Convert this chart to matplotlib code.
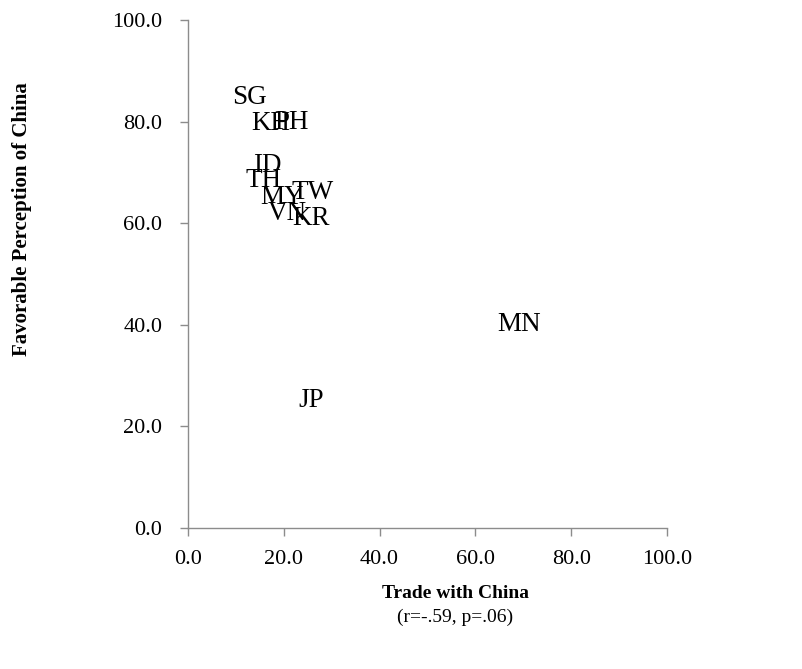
import matplotlib
matplotlib.use("Agg")
import matplotlib.pyplot as plt

countries = ["SG", "PH", "KH", "ID", "TH", "MY", "TW", "VN", "KR", "MN", "JP"]
trade = [12.9, 21.7, 17.3, 16.5, 15.8, 19.6, 26.0, 20.8, 25.6, 69.2, 25.8]
favorable = [84.8, 79.9, 79.7, 71.4, 68.5, 65.0, 66.1, 62.0, 61.0, 40.0, 25.0]

x_ticks = [0, 20, 40, 60, 80, 100]
y_ticks = [0, 20, 40, 60, 80, 100]

fig = plt.figure(figsize=(8.02, 6.69), dpi=100)
ax = fig.add_axes([188/802, 1-528/669, (667-188)/802, (528-20)/669])

for c, x, y in zip(countries, trade, favorable):
    ax.text(x, y, c, ha="center", va="center", fontsize=19.5,
            family="Liberation Serif", color="black")

ax.set_xlim(0, 100)
ax.set_ylim(0, 100)
ax.set_xticks(x_ticks)
ax.set_yticks(y_ticks)
ax.set_xticklabels([f"{v:.1f}" for v in x_ticks], family="Liberation Serif", fontsize=16)
ax.set_yticklabels([f"{v:.1f}" for v in y_ticks], family="Liberation Serif", fontsize=16)
for s in ["top", "right"]:
    ax.spines[s].set_visible(False)
for s in ["left", "bottom"]:
    ax.spines[s].set_color("#8c8c8c")
    ax.spines[s].set_linewidth(1.0)
ax.tick_params(axis="both", direction="out", length=5.5, color="#8c8c8c", width=1.0)
ax.tick_params(axis="y", pad=13)
ax.tick_params(axis="x", pad=10)

fig.text(455/802, 1-593/669, "Trade with China", ha="center", va="center",
         fontsize=14, fontweight="bold", family="Liberation Serif")
fig.text(455/802, 1-617/669, "(r=-.59, p=.06)", ha="center", va="center",
         fontsize=14, family="Liberation Serif")
fig.text(22/802, 1-219/669, "Favorable Perception of China", ha="center", va="center",
         rotation=90, fontsize=15, fontweight="bold", family="Liberation Serif")

fig.savefig("out.png", dpi=100, facecolor="white")
